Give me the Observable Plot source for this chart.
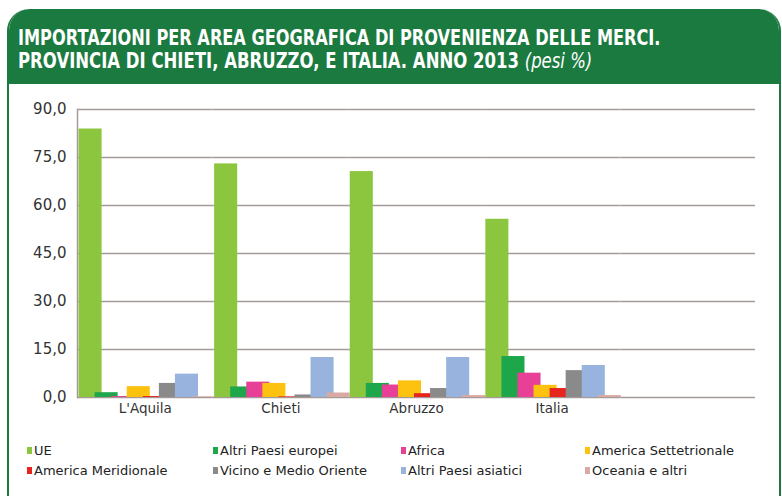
<!DOCTYPE html>
<html>
<head>
<meta charset="utf-8">
<script src="https://cdn.jsdelivr.net/npm/d3@7"></script>
<script src="https://cdn.jsdelivr.net/npm/@observablehq/plot@0.6"></script>
<style>
  html, body { margin: 0; padding: 0; background: #fff; }
  #card {
    position: absolute; left: 7px; top: 9px; width: 770px; height: 500px;
    border: 2px solid #1b7a40; border-top: none; border-radius: 22px 22px 0 0;
    background: #fff; overflow: hidden;
  }
  #head {
    background: #1b7a40; height: 75px; border-radius: 20px 20px 0 0;
    color: #fff; font-family: "DejaVu Sans", sans-serif;
    font-weight: bold; font-size: 22px; line-height: 23px; padding: 17px 0 0 9px; box-sizing: border-box;
  }
  #head .ln { display: block; white-space: nowrap; transform: scaleX(0.735); transform-origin: 0 0; }
  #head .ln2 { transform: scaleX(0.75); }
  #head i { font-weight: normal; }
  #chart { position: absolute; left: 0; top: 75px; }
  #legend {
    position: absolute; left: 0; top: 434px; width: 770px;
    font-family: "DejaVu Sans", sans-serif; font-size: 13px; color: #222;
  }
  .li { position: absolute; white-space: nowrap; }
  .sw { display: inline-block; width: 5px; height: 7px; margin-right: 2px; vertical-align: 1px; }
</style>
</head>
<body>
<div id="card">
  <div id="head"><span class="ln">IMPORTAZIONI PER AREA GEOGRAFICA DI PROVENIENZA DELLE MERCI.</span><span class="ln ln2">PROVINCIA DI CHIETI, ABRUZZO, E ITALIA. ANNO 2013 <i>(pesi %)</i></span></div>
  <div id="chart"></div>
  <div id="legend"></div>
</div>
<script>
const categories = ["L'Aquila", "Chieti", "Abruzzo", "Italia"];
const series = ["UE", "Altri Paesi europei", "Africa", "America Settetrionale",
  "America Meridionale", "Vicino e Medio Oriente", "Altri Paesi asiatici", "Oceania e altri"];
const colors = ["#8cc63f", "#1ea64b", "#e83f97", "#fcc20f", "#e8241e", "#8a8a8a", "#98b4de", "#dba9a3"];

const ue = [83.9, 73.0, 70.6, 55.7];
const altriEuropei = [1.5, 3.3, 4.4, 12.8];
const africa = [0.3, 4.8, 3.9, 7.6];
const americaSett = [3.4, 4.4, 5.2, 3.8];
const americaMerid = [0.3, 0.2, 1.2, 2.8];
const vicinoOriente = [4.4, 0.8, 2.8, 8.4];
const altriAsiatici = [7.3, 12.5, 12.5, 10.0];
const oceania = [0.2, 1.4, 0.6, 0.6];

const yTicks = [0, 15, 30, 45, 60, 75, 90];
const legendRows = [[0, 1, 2, 3], [4, 5, 6, 7]];
const fxDomain = [...categories, " "];

const valuesBySeries = [ue, altriEuropei, africa, americaSett, americaMerid, vicinoOriente, altriAsiatici, oceania];
const rows = [];
categories.forEach((c, ci) => {
  series.forEach((s, si) => rows.push({category: c, series: s, value: valuesBySeries[si][ci]}));
});
const gridRows = [];
fxDomain.forEach(c => yTicks.forEach(v => gridRows.push({category: c, value: v})));

const fmt = d => d.toFixed(1).replace(".", ",");
const gridColor = "#a69a98";

const chart = Plot.plot({
  width: 770,
  height: 346,
  marginLeft: 68,
  marginRight: 24,
  marginTop: 25,
  marginBottom: 33,
  style: {fontFamily: "DejaVu Sans, sans-serif", fontSize: "13.5px", color: "#333", background: "transparent"},
  fx: {domain: fxDomain, padding: 0, label: null, round: false},
  x: {domain: series, paddingInner: 0, paddingOuter: 0.22, round: false, axis: null},
  y: {domain: [0, 90], label: null},
  color: {domain: series, range: colors},
  marks: [
    Plot.ruleY(gridRows, {fx: "category", y: "value", stroke: gridColor, strokeWidth: 1.5}),
    Plot.barY(rows, {fx: "category", x: "series", y: "value", fill: "series", insetLeft: -2, insetRight: -5}),
    Plot.frame({anchor: "left", facetAnchor: "left", stroke: gridColor, strokeWidth: 1.5}),
    Plot.axisY({ticks: yTicks, tickFormat: fmt, tickSize: 0, tickPadding: 11, label: null, fontSize: 15}),
    Plot.axisFx({anchor: "bottom", tickSize: 0, tickPadding: 6, label: null, fontSize: 13.5})
  ]
});
document.getElementById("chart").appendChild(chart);

const legend = document.getElementById("legend");
const colLeft = [18, 204, 392, 576];
legendRows.forEach((r, ri) => {
  r.forEach((si, ci) => {
    const el = document.createElement("div");
    el.className = "li";
    el.style.left = colLeft[ci] + "px";
    el.style.top = (ri * 20) + "px";
    el.innerHTML = `<span class="sw" style="background:${colors[si]}"></span>${series[si]}`;
    legend.appendChild(el);
  });
});
</script>
</body>
</html>
